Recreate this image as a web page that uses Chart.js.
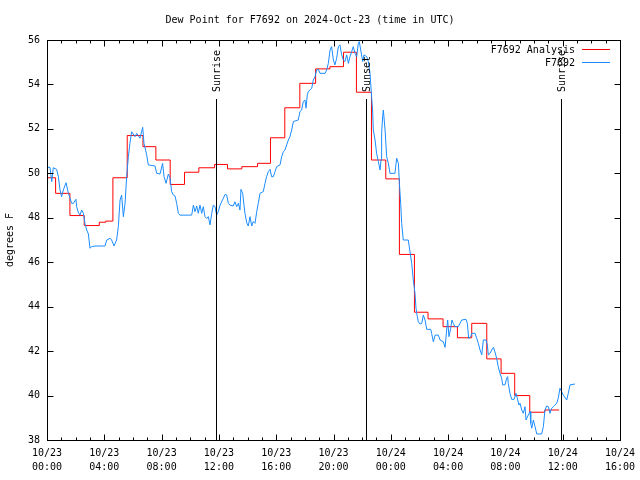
<!DOCTYPE html>
<html>
<head>
<meta charset="utf-8">
<script src="https://cdn.jsdelivr.net/npm/chart.js@4/dist/chart.umd.min.js"></script>
<style>
html,body{margin:0;padding:0;background:#fff;}
canvas{display:block;}
</style>
</head>
<body>
<canvas id="c" width="640" height="480"></canvas>
<script>
// ---- data (hours since 2024-10-23 00:00 UTC, degrees F) ----
const blueTimes = [0.00,0.21,0.33,0.44,0.67,0.79,0.91,1.02,1.14,1.33,1.49,1.61,1.72,1.84,2.02,2.07,2.19,2.30,2.42,2.54,2.65,2.77,2.89,3.00,3.12,3.35,4.05,4.17,4.40,4.51,4.68,4.86,4.98,5.10,5.21,5.33,5.45,5.56,5.68,5.79,5.91,6.14,6.26,6.49,6.68,6.77,6.96,7.07,7.54,7.66,7.89,8.07,8.17,8.31,8.47,8.59,8.70,8.82,8.94,9.05,9.17,9.28,10.10,10.22,10.33,10.45,10.56,10.68,10.80,10.91,11.03,11.15,11.26,11.38,11.50,11.61,11.73,11.84,11.96,12.08,12.31,12.43,12.54,12.66,12.77,13.00,13.12,13.24,13.36,13.47,
13.54,13.66,13.75,13.82,13.94,14.05,14.17,14.29,14.40,14.52,14.64,14.75,14.87,15.10,15.22,15.33,15.45,15.57,15.68,15.80,15.92,16.03,16.27,16.38,16.50,16.61,16.73,16.85,16.96,17.08,17.20,17.54,17.66,17.78,17.89,18.01,18.08,18.17,18.24,18.36,18.48,18.59,18.71,18.82,18.94,19.06,19.41,19.52,19.64,19.76,19.87,19.99,20.10,20.22,20.34,20.45,20.57,20.69,20.80,20.92,21.04,21.15,21.27,21.38,21.50,21.62,21.73,21.80,21.90,22.04,22.13,22.32,22.43,22.55,22.66,22.73,22.78,22.90,23.01,23.13,23.25,23.32,23.36,23.43,23.48,23.60,23.71,23.83,23.94,24.29,24.41,24.53,24.60,24.69,24.76,24.87,25.22,
25.46,25.57,25.69,25.76,25.85,25.92,26.04,26.16,26.27,26.39,26.51,26.79,26.85,26.97,27.09,27.32,27.44,27.67,27.79,27.90,27.97,28.06,28.18,28.27,28.36,28.48,28.71,28.83,28.95,29.25,29.34,29.44,29.58,29.65,29.88,30.00,30.11,30.23,30.35,30.46,30.65,30.74,30.81,30.93,31.04,31.16,31.27,31.39,31.50,31.62,31.74,31.81,31.97,32.09,32.16,32.20,32.32,32.44,32.60,32.74,32.83,32.95,33.02,33.14,33.25,33.37,33.44,33.60,33.72,33.77,33.84,33.95,34.07,34.19,34.53,34.65,34.76,34.88,35.00,35.11,35.23,35.34,35.58,35.69,35.81,35.93,36.04,36.28,36.39,36.51,36.86];
const blueValues = [50.27,50.27,49.63,50.25,50.18,49.85,49.25,48.95,49.25,49.58,49.10,48.88,48.65,48.65,48.83,48.50,48.23,48.12,48.35,48.20,47.75,47.45,47.27,46.63,46.70,46.73,46.73,47.00,47.08,47.00,46.73,47.00,47.60,48.80,49.02,48.05,48.65,49.85,50.75,51.35,51.87,51.65,51.80,51.58,52.07,51.35,50.83,50.38,50.33,50.00,49.97,50.45,49.85,49.55,49.97,49.78,49.18,49.02,48.98,48.65,48.20,48.12,48.12,48.57,48.27,48.53,48.20,48.57,48.20,48.50,48.05,47.97,48.05,47.68,48.20,48.57,48.50,48.12,48.27,48.57,48.88,49.05,49.03,48.65,48.57,48.53,48.72,48.50,48.65,48.35,
49.28,49.10,48.57,48.20,47.78,47.63,48.05,47.63,47.83,47.75,48.27,48.65,49.10,49.18,49.55,49.85,50.08,50.18,49.85,49.85,50.08,50.30,50.38,50.75,50.98,51.05,51.28,51.50,51.65,51.95,52.33,52.40,52.78,52.85,53.23,53.30,52.93,53.53,53.68,53.75,53.83,54.20,54.35,54.65,54.68,54.50,54.50,54.65,54.95,55.55,55.70,55.10,54.88,55.18,55.70,55.78,55.33,55.10,55.03,55.33,54.95,55.25,55.48,55.70,55.40,55.25,55.85,55.93,55.55,55.03,55.33,55.25,55.03,54.50,53.45,52.85,51.95,51.50,50.90,50.53,50.15,50.60,51.80,52.55,52.85,51.95,50.75,50.45,50.00,50.00,50.68,50.45,49.55,48.65,47.75,47.00,47.00,
45.95,45.20,44.60,43.93,43.55,43.32,43.22,43.25,43.62,43.40,42.98,42.98,42.80,42.42,42.72,42.72,42.50,42.42,42.17,42.95,43.40,42.65,43.03,43.40,43.25,43.10,43.10,43.25,43.40,43.43,43.25,42.57,42.65,42.80,42.80,42.57,42.35,42.05,41.83,42.50,42.50,42.27,41.83,41.90,42.05,42.17,41.97,41.67,41.30,41.00,40.78,40.48,40.48,40.78,40.85,40.55,40.10,39.83,39.83,40.10,39.88,39.57,39.65,39.35,39.20,39.50,38.90,39.13,39.28,38.75,38.53,38.90,38.60,38.27,38.27,38.60,39.35,39.53,39.50,39.20,39.43,39.50,39.65,39.88,40.33,40.17,40.02,39.80,40.10,40.48,40.52];

const redTimes  = [0,0.6,1.6,2.6,3.65,4.1,4.6,5.6,6.7,7.6,8.6,9.6,10.6,11.7,12.6,13.6,14.7,15.6,16.6,17.65,18.75,19.75,20.7,21.6,22.65,23.65,24.6,25.65,26.6,27.65,28.65,29.65,30.7,31.7,32.65,33.7,34.75,35.75];
const redValues = [49.8,49.1,48.1,47.65,47.8,47.85,49.8,51.7,51.2,50.6,49.5,50.05,50.25,50.4,50.2,50.3,50.45,51.6,52.95,54.05,54.7,54.8,55.45,53.65,50.6,49.75,46.35,43.75,43.45,43.1,42.6,43.25,41.65,41.0,40.0,39.25,39.35,39.35];

const xTickLabels = [['10/23','00:00'],['10/23','04:00'],['10/23','08:00'],['10/23','12:00'],['10/23','16:00'],['10/23','20:00'],['10/24','00:00'],['10/24','04:00'],['10/24','08:00'],['10/24','12:00'],['10/24','16:00']];
const sunTimes = [11.77, 22.30, 35.85];
const sunNames = ['Sunrise', 'Sunset', 'Sunrise'];
const seriesNames = ['F7692 Analysis', 'F7692'];

const FONT = 'DejaVu Sans Mono';
const RED = '#ff0000';
const BLUE = '#1a8cff';

const toPts = (ts, vs) => ts.map((t, i) => ({x: t, y: vs[i]}));

const decor = {
  id: 'decor',
  afterDraw(chart) {
    const ctx = chart.ctx;
    const xs = chart.scales.x, ys = chart.scales.y;
    const a = chart.chartArea;
    const L = Math.round(a.left) + 0.5, R = Math.round(a.right) + 0.5;
    const T = Math.round(a.top) + 0.5, B = Math.round(a.bottom) + 0.5;
    ctx.save();
    ctx.strokeStyle = '#000';
    ctx.lineWidth = 1;
    // ticks
    ctx.beginPath();
    for (let h = 1; h < 40; h++) {
      const x = Math.round(xs.getPixelForValue(h)) + 0.5;
      const len = (h % 4 === 0) ? 6 : 3;
      ctx.moveTo(x, B); ctx.lineTo(x, B - len);
      ctx.moveTo(x, T); ctx.lineTo(x, T + len);
    }
    for (let v = 40; v < 56; v += 2) {
      const y = Math.round(ys.getPixelForValue(v)) + 0.5;
      ctx.moveTo(L, y); ctx.lineTo(L + 6, y);
      ctx.moveTo(R, y); ctx.lineTo(R - 6, y);
    }
    ctx.stroke();
    // sunrise/sunset lines
    ctx.beginPath();
    sunTimes.forEach(t => {
      const x = Math.round(xs.getPixelForValue(t)) + 0.5;
      ctx.moveTo(x, 99); ctx.lineTo(x, B);
    });
    ctx.stroke();
    // frame
    ctx.strokeRect(L, T, R - L, B - T);
    // sun labels
    ctx.fillStyle = '#000';
    ctx.font = '10px "' + FONT + '"';
    ctx.textAlign = 'left';
    ctx.textBaseline = 'middle';
    sunTimes.forEach((t, i) => {
      const x = Math.round(xs.getPixelForValue(t)) + 1;
      ctx.save();
      ctx.translate(x, 92);
      ctx.rotate(-Math.PI / 2);
      ctx.fillText(sunNames[i], 0, 0);
      ctx.restore();
    });
    // legend
    ctx.textAlign = 'right';
    ctx.fillText(seriesNames[0], 575, 50);
    ctx.fillText(seriesNames[1], 575, 63);
    ctx.beginPath();
    ctx.strokeStyle = RED;
    ctx.moveTo(582, 49.5); ctx.lineTo(610, 49.5);
    ctx.stroke();
    ctx.beginPath();
    ctx.strokeStyle = BLUE;
    ctx.moveTo(582, 62.5); ctx.lineTo(610, 62.5);
    ctx.stroke();
    ctx.restore();
  }
};

new Chart(document.getElementById('c'), {
  type: 'line',
  data: {
    datasets: [
      {
        label: seriesNames[0],
        data: toPts(redTimes, redValues),
        borderColor: RED,
        borderWidth: 1,
        pointRadius: 0,
        stepped: 'before',
        fill: false,
        order: 1
      },
      {
        label: seriesNames[1],
        data: toPts(blueTimes, blueValues),
        borderColor: BLUE,
        borderWidth: 1,
        pointRadius: 0,
        tension: 0,
        fill: false,
        order: 0
      }
    ]
  },
  options: {
    responsive: false,
    animation: false,
    devicePixelRatio: 1,
    layout: { padding: { left: 0, right: 20, top: 0, bottom: 0 } },
    plugins: {
      legend: { display: false },
      tooltip: { enabled: false },
      title: {
        display: true,
        text: 'Dew Point for F7692 on 2024-Oct-23 (time in UTC)',
        color: '#000',
        font: { family: FONT, size: 10, weight: 'normal', lineHeight: 1.2 },
        padding: { top: 14, bottom: 14 }
      }
    },
    scales: {
      x: {
        type: 'linear',
        min: 0, max: 40,
        offset: false,
        grid: { display: false, drawTicks: false },
        border: { display: false },
        ticks: {
          stepSize: 4,
          autoSkip: false,
          maxRotation: 0,
          padding: 6,
          color: '#000',
          font: { family: FONT, size: 10, lineHeight: 1.4 },
          callback: (v, i) => xTickLabels[i]
        },
        afterFit: s => { s.height = 40; s.paddingLeft = 0; s.paddingRight = 0; }
      },
      y: {
        type: 'linear',
        min: 38, max: 56,
        grid: { display: false, drawTicks: false },
        border: { display: false },
        ticks: {
          stepSize: 2,
          padding: 7,
          color: '#000',
          font: { family: FONT, size: 10 }
        },
        title: {
          display: true,
          text: 'degrees F',
          color: '#000',
          font: { family: FONT, size: 10, lineHeight: 1.2 },
          padding: { top: 4, bottom: 0 }
        },
        afterFit: s => { s.width = 47; s.paddingTop = 0; s.paddingBottom = 0; }
      }
    }
  },
  plugins: [decor]
});
</script>
</body>
</html>
